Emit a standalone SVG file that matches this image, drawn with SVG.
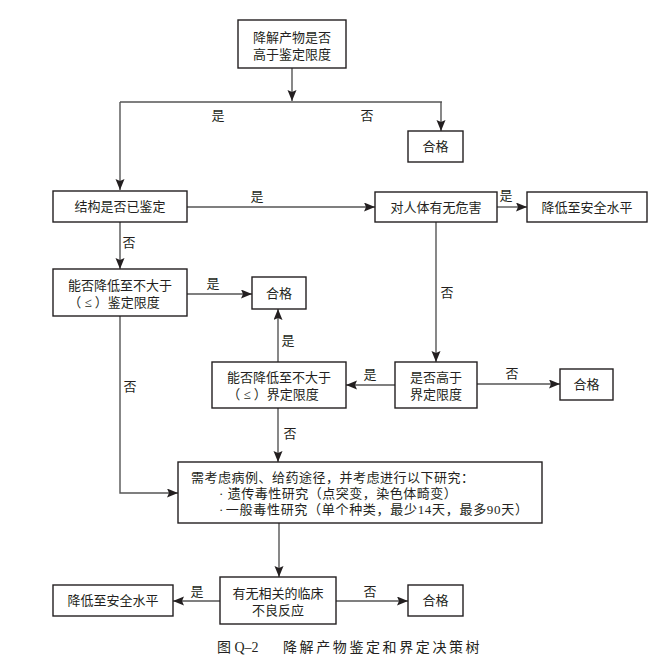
<svg xmlns="http://www.w3.org/2000/svg" width="666" height="664" viewBox="0 0 666 664">
<style>
.box{fill:#fff;stroke:#231f20;stroke-width:1.4}
.t{font-family:"Liberation Serif","Noto Sans CJK SC",serif;font-size:13px;fill:#231f20;text-anchor:middle;dominant-baseline:central}
.l{font-family:"Liberation Serif","Noto Sans CJK SC",serif;font-size:13px;fill:#231f20;dominant-baseline:central}
.c{fill:none;stroke:#555;stroke-width:1.4}
.a{marker-end:url(#arr)}
</style>
<defs>
<marker id="arr" markerUnits="userSpaceOnUse" markerWidth="12" markerHeight="10" refX="11" refY="4.5" orient="auto">
<path d="M0,0 L11,4.5 L0,9 L2,4.5 z" fill="#231f20"/>
</marker>
</defs>
<rect width="666" height="664" fill="#fff"/>
<g id="connectors">
<path class="c a" d="M292,68 V101"/>
<path class="c" d="M120,102 H442"/>
<path class="c a" d="M120,102 V190"/>
<path class="c a" d="M441,102 V131"/>
<path class="c a" d="M187,207 H375"/>
<path class="c a" d="M497,207 H527"/>
<path class="c a" d="M120,222 V269"/>
<path class="c a" d="M187,294 H252"/>
<path class="c a" d="M436,222 V362"/>
<path class="c a" d="M477,384 H560"/>
<path class="c a" d="M395,385 H346"/>
<path class="c a" d="M278,362 V309"/>
<path class="c a" d="M278,408 V462"/>
<path class="c a" d="M120,316 V493 H178"/>
<path class="c a" d="M279,523 V577"/>
<path class="c a" d="M220,601 H173"/>
<path class="c a" d="M336,601 H408"/>
<text class="t" x="218" y="115">是</text>
<text class="t" x="367" y="115">否</text>
<text class="t" x="257" y="196">是</text>
<text class="t" x="506" y="195">是</text>
<text class="t" x="129" y="242">否</text>
<text class="t" x="213" y="283">是</text>
<text class="t" x="447" y="292">否</text>
<text class="t" x="512" y="373">否</text>
<text class="t" x="370" y="374">是</text>
<text class="t" x="288" y="340">是</text>
<text class="t" x="290" y="433">否</text>
<text class="t" x="130" y="386">否</text>
<text class="t" x="197" y="591">是</text>
<text class="t" x="370" y="591">否</text>
</g>
<g id="n1"><rect class="box" x="238" y="20" width="108" height="48"/><text class="t"><tspan x="292" y="37">降解产物是否</tspan><tspan x="292" y="54">高于鉴定限度</tspan></text></g>
<g id="n2"><rect class="box" x="408" y="131" width="55" height="31"/><text class="t" x="435.5" y="146.5">合格</text></g>
<g id="n3"><rect class="box" x="53" y="191" width="134" height="31"/><text class="t" x="120" y="206.5">结构是否已鉴定</text></g>
<g id="n4"><rect class="box" x="375" y="192" width="122" height="30"/><text class="t" x="436" y="207">对人体有无危害</text></g>
<g id="n5"><rect class="box" x="527" y="192" width="120" height="30"/><text class="t" x="587" y="207">降低至安全水平</text></g>
<g id="n6"><rect class="box" x="53" y="269" width="134" height="47"/><text class="t"><tspan x="120" y="285">能否降低至不大于</tspan><tspan x="114" y="302">（ ≤ ）鉴定限度</tspan></text></g>
<g id="n7"><rect class="box" x="252" y="277" width="54" height="32"/><text class="t" x="279" y="293">合格</text></g>
<g id="n8"><rect class="box" x="212" y="362" width="134" height="46"/><text class="t"><tspan x="279" y="377">能否降低至不大于</tspan><tspan x="273" y="394">（ ≤ ）界定限度</tspan></text></g>
<g id="n9"><rect class="box" x="395" y="362" width="82" height="46"/><text class="t"><tspan x="436" y="377">是否高于</tspan><tspan x="436" y="394">界定限度</tspan></text></g>
<g id="n10"><rect class="box" x="560" y="369" width="53" height="31"/><text class="t" x="586.5" y="384.5">合格</text></g>
<g id="n11"><rect class="box" x="178" y="462" width="364" height="61"/>
<text class="l" style="letter-spacing:0.5px"><tspan x="191" y="477">需考虑病例、给药途径，并考虑进行以下研究：</tspan><tspan x="219" y="493">·</tspan><tspan dx="4">遗传毒性研究（点突变，染色体畸变）</tspan><tspan x="219" y="509">·</tspan><tspan dx="2" style="letter-spacing:0.7px">一般毒性研究（单个种类，最少14天，最多90天）</tspan></text></g>
<g id="n12"><rect class="box" x="220" y="577" width="116" height="47"/><text class="t"><tspan x="278" y="593">有无相关的临床</tspan><tspan x="278" y="610">不良反应</tspan></text></g>
<g id="n13"><rect class="box" x="53" y="585" width="120" height="31"/><text class="t" x="113" y="600.5">降低至安全水平</text></g>
<g id="n14"><rect class="box" x="408" y="585" width="55" height="31"/><text class="t" x="435.5" y="600.5">合格</text></g>
<text class="l" x="217" y="647" style="font-size:14px">图 Q–2</text>
<text class="l" x="283" y="647" style="font-size:14px;letter-spacing:2.6px">降解产物鉴定和界定决策树</text>
</svg>
